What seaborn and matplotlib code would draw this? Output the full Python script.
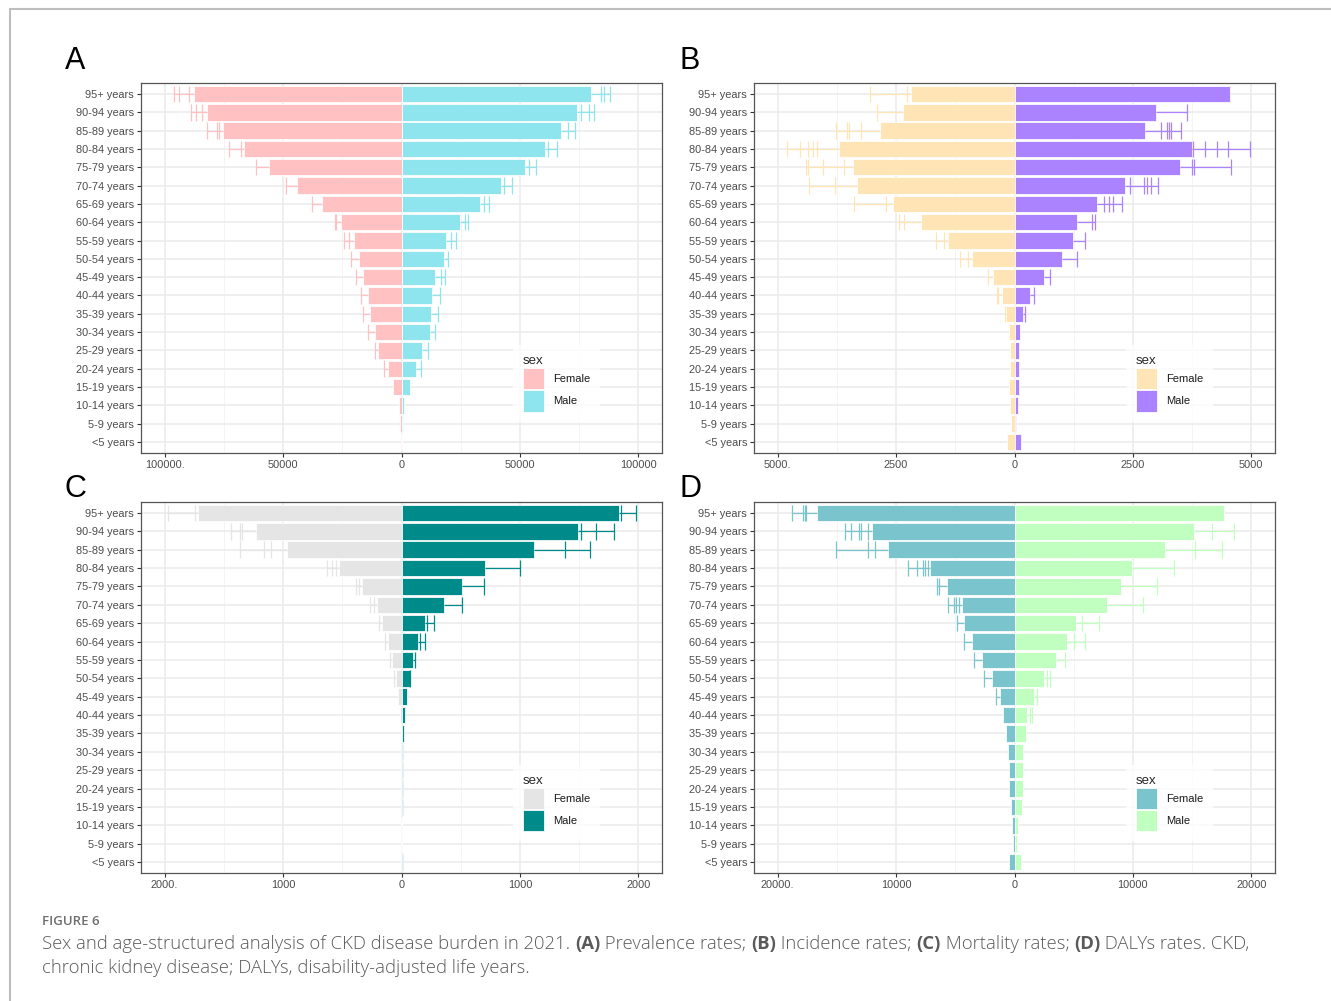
import matplotlib
matplotlib.use("Agg")
import matplotlib.pyplot as plt
from matplotlib.lines import Line2D
import pandas as pd
import seaborn as sns

# Age bands, top to bottom
ages = ["95+ years", "90-94 years", "85-89 years", "80-84 years", "75-79 years",
        "70-74 years", "65-69 years", "60-64 years", "55-59 years", "50-54 years",
        "45-49 years", "40-44 years", "35-39 years", "30-34 years", "25-29 years",
        "20-24 years", "15-19 years", "10-14 years", "5-9 years", "<5 years"]
sexes = ["Female", "Male"]

# (A) Prevalence rates
prev_female = [87500, 82000, 75200, 66600, 55900, 44100, 33600, 25700, 20000, 17900,
               16200, 14300, 13400, 11300, 9800, 5600, 3400, 1100, 500, 200]
prev_female_upper = [[89800, 93800, 96100], [84100, 86600, 88900], [77000, 78000, 82100],
                     [67900, 72800], [61300], [48700], [38000], [27700, 28200],
                     [22000, 24400], [21500], [19200], [17000], [16200], [14300],
                     [11300], [7500], [], [], [], []]
prev_male = [80000, 74100, 67400, 60700, 52300, 42000, 33300, 24800, 19000, 17900,
             14300, 13000, 12300, 12100, 8700, 6100, 3600, 1100, 500, 200]
prev_male_upper = [[84100, 85700, 87900], [75900, 79200, 81100], [70200, 73100],
                   [62000, 65600], [53800, 57000], [43400, 46700], [34900, 37000],
                   [26700, 28000], [21000, 23000], [19800], [16600, 18200], [16100],
                   [15600], [14100], [11100], [8200], [], [], [], []]

# (B) Incidence rates
inc_female = [2180, 2360, 2830, 3700, 3410, 3330, 2560, 1970, 1410, 890,
              450, 270, 170, 110, 90, 100, 115, 100, 65, 150]
inc_female_upper = [[2270, 3050], [2900], [3250, 3500, 3530, 3775],
                    [4160, 4260, 4370, 4530, 4800], [3590, 4050, 4370, 4410],
                    [3790, 4340], [2720, 3380], [2330, 2430], [1490, 1660],
                    [980, 1150], [560], [340, 380], [210], [], [], [], [], [], [], []]
inc_male = [4540, 2990, 2750, 3740, 3500, 2330, 1740, 1310, 1230, 1010,
            620, 320, 190, 120, 100, 100, 100, 75, 40, 130]
inc_male_upper = [[], [3650], [3100, 3220, 3260, 3300, 3510],
                  [3770, 4020, 4270, 4510, 4980], [3740, 3790, 4580],
                  [2440, 2730, 2790, 2890, 3020], [1880, 1990, 2070, 2270],
                  [1640, 1690], [1490], [1310], [760], [420], [220],
                  [], [], [], [], [], [], []]

# (C) Mortality rates
mort_female = [1720, 1226, 964, 528, 331, 203, 161, 115, 82, 49,
               33, 16, 8, 6, 5, 4, 3, 1, 1, 4]
mort_female_upper = [[1745, 1975], [1344, 1361, 1443], [1105, 1164, 1361],
                     [554, 590, 633], [357, 384], [236, 269], [187], [138], [95],
                     [66], [], [], [], [], [], [], [], [], [], []]
mort_male = [1833, 1492, 1121, 708, 508, 361, 197, 138, 95, 72,
             43, 30, 18, 15, 15, 15, 15, 5, 4, 12]
mort_male_upper = [[1856, 1977], [1518, 1643, 1797], [1380, 1590], [997], [698],
                   [515], [213, 272], [157, 197], [115], [75],
                   [], [], [], [], [], [], [], [], [], []]

# (D) DALYs rates
daly_female = [16640, 12070, 10720, 7100, 5660, 4470, 4240, 3550, 2760, 1940,
               1220, 990, 760, 590, 490, 490, 330, 200, 130, 490]
daly_female_upper = [[17570, 17730, 17860, 18750], [12370, 12930, 13130, 13820, 14340],
                     [11810, 12400, 15100], [7270, 7530, 7760, 8260, 9010],
                     [6350, 6550], [4700, 4970, 5130, 5620], [4870], [4240], [3420],
                     [2570], [1580], [], [], [], [], [], [], [], [], []]
daly_male = [17660, 15130, 12730, 9900, 9010, 7800, 5160, 4410, 3520, 2500,
             1610, 1020, 950, 690, 760, 690, 660, 260, 200, 530]
daly_male_upper = [[], [16680, 18520], [15260, 17500], [13450], [12010], [10890],
                   [5720, 7140], [5000, 5990], [4240], [2760, 2990], [1880],
                   [1280, 1450], [], [], [], [], [], [], [], []]

# Axis ticks per panel
prev_ticks = [-100000, -50000, 0, 50000, 100000]
prev_ticklabels = ["100000.", "50000", "0", "50000", "100000"]
inc_ticks = [-5000, -2500, 0, 2500, 5000]
inc_ticklabels = ["5000.", "2500", "0", "2500", "5000"]
mort_ticks = [-2000, -1000, 0, 1000, 2000]
mort_ticklabels = ["2000.", "1000", "0", "1000", "2000"]
daly_ticks = [-20000, -10000, 0, 10000, 20000]
daly_ticklabels = ["20000.", "10000", "0", "10000", "20000"]

sns.set_theme(style="white")
plt.rcParams["font.family"] = ["Liberation Sans", "DejaVu Sans"]

W, H = 1331, 1001
fig = plt.figure(figsize=(W / 100, H / 100), dpi=100)


def px_rect(left, top, right, bottom):
    return [left / W, 1 - bottom / H, (right - left) / W, (bottom - top) / H]


def pyramid(rect, letter, letter_xy, female, female_upper, male, male_upper,
            palette, ticks, ticklabels):
    ax = fig.add_axes(rect)
    df = pd.DataFrame({
        "age": ages * 2,
        "sex": ["Female"] * len(ages) + ["Male"] * len(ages),
        "value": [-v for v in female] + list(male),
    })
    sns.barplot(data=df, x="value", y="age", hue="sex", order=ages,
                hue_order=sexes, palette=palette, dodge=False, width=0.9,
                saturation=1, edgecolor="white", linewidth=0.55, errorbar=None,
                ax=ax, zorder=2)

    # error bars: whisker from the bar end out to each upper bound
    for sign, vals, uppers, sex in ((-1, female, female_upper, "Female"),
                                     (1, male, male_upper, "Male")):
        col = palette[sex]
        for i, (v, ups) in enumerate(zip(vals, uppers)):
            if not ups:
                continue
            ax.hlines(i, sign * v, sign * max(ups), color=col, lw=0.9, zorder=3)
            ax.vlines([sign * u for u in ups], i - 0.45, i + 0.45, color=col,
                      lw=0.9, zorder=3)

    span = ticks[-1] * 1.1
    ax.set_xlim(-span, span)
    ax.set_ylim(len(ages) - 0.4, -0.6)
    ax.set_xticks(ticks)
    ax.set_xticklabels(ticklabels)
    step = ticks[1] - ticks[0]
    ax.set_xticks([t + step / 2 for t in ticks[:-1]], minor=True)
    ax.set_axisbelow(True)
    ax.grid(which="major", color="#EBEBEB", lw=1.1)
    ax.grid(which="minor", axis="x", color="#F3F3F3", lw=0.6)
    ax.set_xlabel("")
    ax.set_ylabel("")
    ax.tick_params(axis="both", which="major", length=3, width=0.8, color="#333333",
                   labelcolor="#4D4D4D", labelsize=7.9, pad=2,
                   left=True, bottom=True)
    ax.tick_params(which="minor", length=0)
    for s in ax.spines.values():
        s.set_visible(True)
        s.set_color("#555555")
        s.set_linewidth(0.9)

    sns.move_legend(ax, "lower left", bbox_to_anchor=(0.703, 0.07), frameon=True,
                    title="sex", fontsize=8, title_fontsize=9.5, handlelength=1.9,
                    handleheight=2.6, labelspacing=0.05, borderpad=0.9,
                    handletextpad=0.8)
    leg = ax.get_legend()
    leg.get_frame().set_facecolor("white")
    leg.get_frame().set_edgecolor("none")
    leg.get_frame().set_boxstyle("square", pad=0)
    leg._legend_box.align = "left"
    for t in leg.get_texts():
        t.set_color("#1A1A1A")

    fig.text(letter_xy[0] / W, 1 - letter_xy[1] / H, letter, fontsize=22,
             ha="left", va="baseline", color="black")
    return ax


pyramid(px_rect(141, 83, 662, 453), "A", (65, 69), prev_female, prev_female_upper,
        prev_male, prev_male_upper, {"Female": "#FFC1C1", "Male": "#8EE5EE"},
        prev_ticks, prev_ticklabels)
pyramid(px_rect(754, 83, 1275, 453), "B", (679, 69), inc_female, inc_female_upper,
        inc_male, inc_male_upper, {"Female": "#FFE4B5", "Male": "#AB82FF"},
        inc_ticks, inc_ticklabels)
pyramid(px_rect(141, 502, 662, 873), "C", (65, 497), mort_female, mort_female_upper,
        mort_male, mort_male_upper, {"Female": "#E5E5E5", "Male": "#008B8B"},
        mort_ticks, mort_ticklabels)
pyramid(px_rect(754, 502, 1275, 873), "D", (679, 497), daly_female, daly_female_upper,
        daly_male, daly_male_upper, {"Female": "#7AC5CD", "Male": "#C1FFC1"},
        daly_ticks, daly_ticklabels)

# page frame
fig.add_artist(Line2D([9.5 / W, 1], [1 - 8.5 / H] * 2, color="#BDBDBD", lw=1.5))
fig.add_artist(Line2D([9.5 / W] * 2, [0, 1 - 8.5 / H], color="#BDBDBD", lw=1.5))

# caption
cap_font = dict(family=["Open Sans", "DejaVu Sans"], fontsize=13.3, color="#5A5A5A")
fig.text(42 / W, 1 - 925 / H, "FIGURE 6", family=["Open Sans", "DejaVu Sans"],
         fontsize=9.5, fontweight="semibold", color="#6E6E6E", va="baseline")

pieces = [("Sex and age-structured analysis of CKD disease burden in 2021. ", "light"),
          ("(A)", "bold"), (" Prevalence rates; ", "light"), ("(B)", "bold"),
          (" Incidence rates; ", "light"), ("(C)", "bold"), (" Mortality rates; ", "light"),
          ("(D)", "bold"), (" DALYs rates. CKD,", "light")]
prev = fig.text(42 / W, 1 - 949 / H, pieces[0][0], fontweight=pieces[0][1],
                va="baseline", **cap_font)
for txt, wt in pieces[1:]:
    prev = plt.annotate(txt, xy=(1, 0), xycoords=prev, va="bottom", ha="left",
                        fontweight=wt, annotation_clip=False, **cap_font)
fig.text(42 / W, 1 - 973 / H, "chronic kidney disease; DALYs, disability-adjusted life years.",
         fontweight="light", va="baseline", **cap_font)

fig.savefig("out.png", dpi=100, facecolor="white")
